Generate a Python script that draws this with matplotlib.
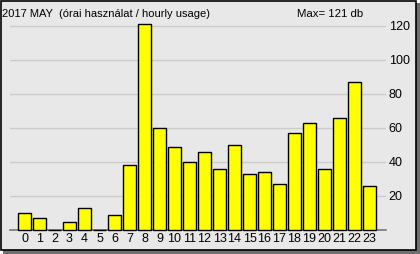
import numpy as np
import matplotlib.pyplot as plt
from matplotlib.patches import Rectangle, Polygon

hours = list(range(24))
usage = [10, 7, 0, 5, 13, 0, 9, 38, 121, 60, 49, 40, 46, 36, 50, 33, 34, 27, 57, 63, 36, 66, 87, 26]
yticks = [20, 40, 60, 80, 100, 120]
title = "2017 MAY  (órai használat / hourly usage)"
maxtext = "Max= 121 db"

plt.rcParams['font.family'] = ['Liberation Sans', 'DejaVu Sans']

W, H = 420, 254
fig = plt.figure(figsize=(W / 100, H / 100), dpi=100)
fig.patch.set_facecolor('white')

# panel + shadow in pixel coords (y down)
bg = fig.add_axes([0, 0, 1, 1])
bg.set_xlim(0, W)
bg.set_ylim(H, 0)
bg.axis('off')
bg.add_patch(Polygon([(415, 3), (420, 3), (420, 254), (3, 254), (3, 249), (415, 249)],
                     closed=True, facecolor='#6e6e6e', edgecolor='none'))
bg.add_patch(Rectangle((0.6, 0.6), 415, 249, facecolor='#e8e8e8', edgecolor='black', lw=1.2))
bg.text(2, 14, title, fontsize=8.0, va='center', ha='left')
bg.text(363, 14, maxtext, fontsize=8.2, va='center', ha='right')

# data axes
px0, px1 = 10, 386
py0, py1 = 24, 230
ax = fig.add_axes([px0 / W, 1 - py1 / H, (px1 - px0) / W, (py1 - py0) / H])
ax.set_facecolor('none')
ax.set_xlim((px0 - 24.5) / 15, (px1 - 24.5) / 15)
ax.set_ylim(0, (230 - 24) / 1.7)

ax.bar(hours, usage, width=0.83, color='#ffff00', edgecolor='black', lw=1.0, zorder=3, clip_on=False)

for s in ['top', 'left', 'right']:
    ax.spines[s].set_visible(False)
ax.spines['bottom'].set_color('#777777')
ax.spines['bottom'].set_linewidth(1.2)

ax.set_xticks(hours)
ax.set_xticklabels([str(h) for h in hours], fontsize=9)
ax.tick_params(axis='x', length=0, pad=2)
ax.yaxis.tick_right()
ax.set_yticks(yticks)
ax.set_yticklabels([str(v) for v in yticks], fontsize=9)
ax.tick_params(axis='y', length=0, pad=2)
ax.grid(axis='y', color='#cccccc', lw=1.0, zorder=0)
ax.set_axisbelow(True)

fig.savefig('out.png', dpi=100)
